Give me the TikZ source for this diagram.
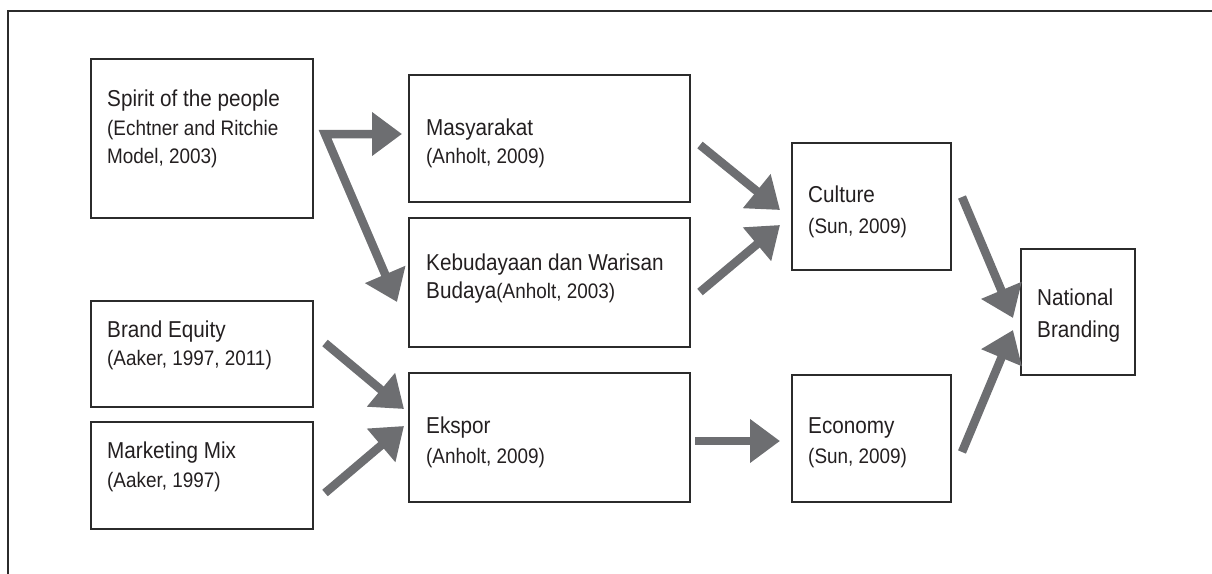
\documentclass[tikz,border=0pt]{standalone}
\usepackage{fontspec}
\setmainfont{Liberation Sans}[FakeStretch=0.9]
\usetikzlibrary{arrows.meta}
\definecolor{arrowgray}{HTML}{6D6E71}
\definecolor{ink}{HTML}{231F20}
\definecolor{boxline}{HTML}{2B2B2B}
\begin{document}
\begin{tikzpicture}[x=1pt,y=-1pt,
  box/.style={draw=boxline, line width=1.4pt, anchor=north west, inner sep=0pt, outer sep=0pt},
  tmain/.style={anchor=base west, inner sep=0pt, text=ink, font=\fontsize{23}{27}\selectfont},
  tsub/.style={anchor=base west, inner sep=0pt, text=ink, font=\fontsize{21}{25}\selectfont},
  arr/.style={draw=arrowgray, line width=8.5pt, line join=miter, -{Triangle[length=30pt,width=42pt]}},
  darr/.style={draw=arrowgray, line width=8.5pt, line join=miter, {Triangle[length=30pt,width=42pt]}-{Triangle[length=30pt,width=42pt]}}
]
\useasboundingbox (0,0) rectangle (1212,573);
\clip (0,0) rectangle (1212,573);
% outer frame
\draw[draw=boxline, line width=2pt] (8,600) -- (8,11) -- (1230,11);

% boxes
\node[box, minimum width=222pt, minimum height=159pt] (spirit) at (91,59) {};
\node[box, minimum width=222pt, minimum height=106pt] (brand) at (91,301) {};
\node[box, minimum width=222pt, minimum height=107pt] (mix) at (91,422) {};
\node[box, minimum width=281pt, minimum height=127pt] (masy) at (409,75) {};
\node[box, minimum width=281pt, minimum height=129pt] (keb) at (409,218) {};
\node[box, minimum width=281pt, minimum height=129pt] (eks) at (409,373) {};
\node[box, minimum width=159pt, minimum height=127pt] (cult) at (792,143) {};
\node[box, minimum width=159pt, minimum height=127pt] (econ) at (792,375) {};
\node[box, minimum width=114pt, minimum height=126pt] (nb) at (1021,249) {};

% texts
\node[tmain] (spiritA) at (107,106) {Spirit of the people};
\node[tsub] (spiritB) at (107,135) {(Echtner and Ritchie};
\node[tsub] (spiritC) at (107,163) {Model, 2003)};
\node[tmain] (brandA) at (107,337) {Brand Equity};
\node[tsub] (brandB) at (107,365) {(Aaker, 1997, 2011)};
\node[tmain] (mixA) at (107,458) {Marketing Mix};
\node[tsub] (mixB) at (107,487) {(Aaker, 1997)};
\node[tmain] (masyA) at (426,135) {Masyarakat};
\node[tsub] (masyB) at (426,163) {(Anholt, 2009)};
\node[tmain] (kebA) at (426,270) {Kebudayaan dan Warisan};
\node[tmain] (kebB) at (426,298) {Budaya{\fontsize{21}{25}\selectfont(Anholt, 2003)}};
\node[tmain] (eksA) at (426,433) {Ekspor};
\node[tsub] (eksB) at (426,463) {(Anholt, 2009)};
\node[tmain] (cultA) at (808,202) {Culture};
\node[tsub] (cultB) at (808,233) {(Sun, 2009)};
\node[tmain] (econA) at (808,433) {Economy};
\node[tsub] (econB) at (808,463) {(Sun, 2009)};
\node[tmain] (nbA) at (1037,305) {National};
\node[tmain] (nbB) at (1037,337) {Branding};

% connector coordinates
\coordinate (fork) at (325,134);
\coordinate (masyTip) at (402,134);
\coordinate (kebTip) at (397,302);
\coordinate (brandS) at (325,343);
\coordinate (mixS) at (325,493);
\coordinate (eksIn1) at (404,409);
\coordinate (eksIn2) at (404,426);
\coordinate (masyS) at (700,145);
\coordinate (kebS) at (700,292);
\coordinate (cultIn1) at (780,210);
\coordinate (cultIn2) at (780,225);
\coordinate (eksS) at (695,441);
\coordinate (econIn) at (780,441);
\coordinate (cultS) at (962,197);
\coordinate (econS) at (962,452);
\coordinate (nbIn1) at (1013,318);
\coordinate (nbIn2) at (1013,330);

% connectors
\draw[darr] (kebTip) -- (fork) -- (masyTip);
\draw[arr] (brandS) -- (eksIn1);
\draw[arr] (mixS) -- (eksIn2);
\draw[arr] (masyS) -- (cultIn1);
\draw[arr] (kebS) -- (cultIn2);
\draw[arr] (eksS) -- (econIn);
\draw[arr] (cultS) -- (nbIn1);
\draw[arr] (econS) -- (nbIn2);
\end{tikzpicture}
\end{document}
